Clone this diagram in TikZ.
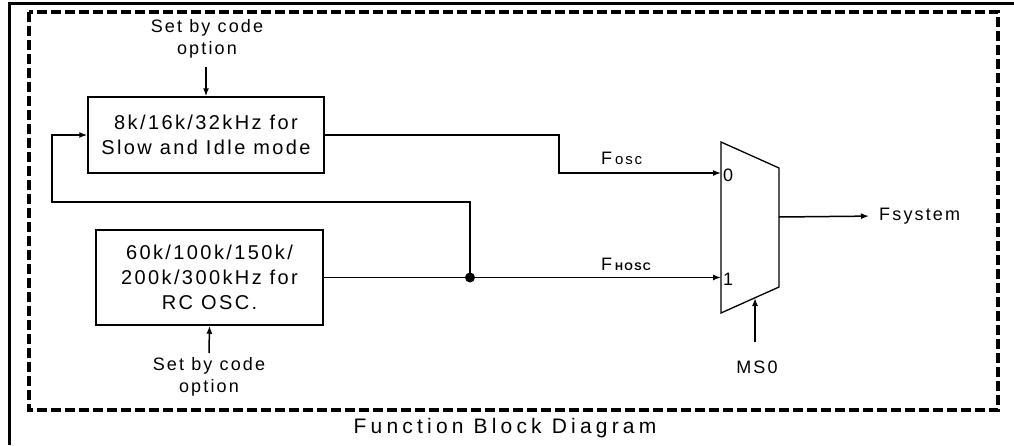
\documentclass[tikz,border=0pt]{standalone}
\usepackage{fontspec}
\setmainfont{Liberation Sans}
\newfontfamily\lsfont{Liberation Sans}[LetterSpace=12]
\newfontfamily\capfont{Liberation Sans}[LetterSpace=20]
\usetikzlibrary{arrows.meta,calc}
\tikzset{
  wire/.style={line width=1.5pt},
  arr/.style={wire,-{Latex[length=8pt,width=6pt]}},
  blk/.style={draw,line width=1.5pt,align=center,inner sep=0pt,font=\lsfont\fontsize{20}{25}\selectfont},
  lbl/.style={align=center,inner sep=0pt,font=\lsfont\fontsize{18}{22}\selectfont},
  frame/.style={line width=3.5pt,dash pattern=on 10pt off 4pt},
}
\begin{document}
\begin{tikzpicture}[x=1pt,y=-1pt]
\useasboundingbox (0,0) rectangle (1014,445);
% outer solid border
\draw[line width=3pt] (9,445) -- (9,3) -- (1014,3);
% dashed frame
\draw[frame] (29,12) rectangle (998,410);
\node[inner sep=0pt,font=\capfont\fontsize{21}{22}\selectfont] (cap) at (505,428) {Function Block Diagram};

% blocks
\node[blk,minimum width=236pt,minimum height=76pt] (b1) at (206,135) {8k/16k/32kHz for\\Slow and Idle mode};
\node[blk,minimum width=227pt,minimum height=95pt] (b2) at (209.5,277.5) {60k/100k/150k/\\200k/300kHz for\\RC OSC.};

% code option labels
\node[lbl] (s1) at (207,39) {Set by code\\option};
\node[lbl] (s2) at (209,377) {Set by code\\option};
\coordinate (s1a) at (206,67);
\coordinate (s2a) at (209,353);
\draw[arr] (s1a) -- (b1.north);
\draw[arr] (s2a) -- (b2.south);

% mux
\coordinate (m1) at (721,142);
\coordinate (m2) at (779,168);
\coordinate (m3) at (779,287);
\coordinate (m4) at (721,313);
\draw[line width=1.3pt] (m1) -- (m2) -- (m3) -- (m4) -- cycle;
\coordinate (in0) at (721,173);
\coordinate (in1) at (721,277.5);
\coordinate (out) at (779,217);
\coordinate (sel) at (755,298);
\node[lbl,anchor=west] (l0) at (723,175) {0};
\node[lbl,anchor=west] (l1) at (723,279) {1};

% junction
\coordinate (j) at (470,277.5);
\fill (j) circle (5pt);

% connections
\draw[arr] (b1.east) -- (559,135) -- (559,173) -- (in0);
\draw[arr] (b2.east) -- (in1);
\draw[arr] (j) -- (470,202) -- (52,202) -- (52,135) -- (b1.west);

\node[lbl,anchor=base west] (fosc) at (601,164) {F\,{\fontsize{15}{15}\selectfont osc}};
\node[lbl,anchor=base west] (fhosc) at (601,270) {F\,{\fontsize{11}{11}\selectfont\bfseries HOSC}};

% output
\node[lbl,anchor=west] (fs) at (879,216) {Fsystem};
\draw[arr,shorten >=10pt] (out) -- (fs.west);
% select
\node[lbl] (ms) at (757,367) {MS0};
\draw[arr] (755,342) -- (sel);
\end{tikzpicture}
\end{document}
